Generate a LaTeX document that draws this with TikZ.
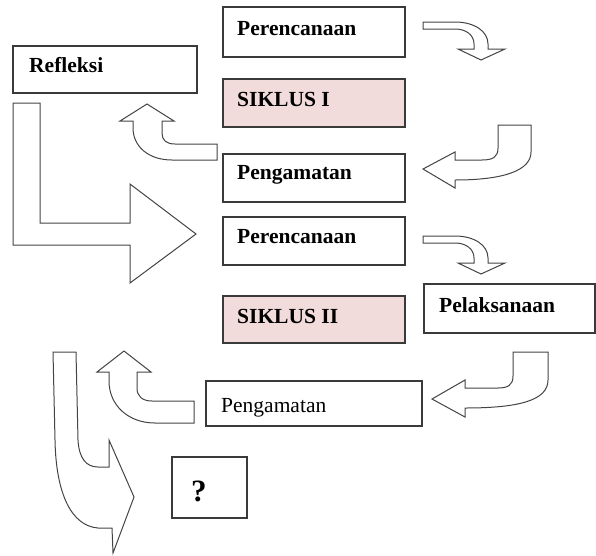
\documentclass[tikz,border=0pt]{standalone}
\usepackage{fontspec}
\setmainfont{Liberation Serif}
\definecolor{boxline}{HTML}{3A3A3A}
\definecolor{arrline}{HTML}{444444}
\definecolor{pinkfill}{HTML}{F2DCDB}
\tikzset{
  box/.style={draw=boxline, line width=1.3pt, fill=white, inner sep=0pt, outer sep=0pt},
  pinkbox/.style={box, fill=pinkfill},
  lbl/.style={anchor=base west, inner sep=0pt, font=\fontsize{21.5}{24}\selectfont\bfseries},
  lblr/.style={anchor=base west, inner sep=0pt, font=\fontsize{21.5}{24}\selectfont},
  qlbl/.style={anchor=base west, inner sep=0pt, font=\fontsize{31}{33}\selectfont\bfseries},
  blockarrow/.style={draw=arrline, line width=1pt, fill=white, line join=miter},
}
\begin{document}
\begin{tikzpicture}[x=1pt, y=-1pt]
\useasboundingbox (0,0) rectangle (596,555);
% boxes
\node[box, minimum width=182pt, minimum height=50pt] (p1) at (314,32) {};
\node[pinkbox, minimum width=182pt, minimum height=48pt] (s1) at (314,103) {};
\node[box, minimum width=182pt, minimum height=48pt] (g1) at (314,178) {};
\node[box, minimum width=182pt, minimum height=48pt] (p2) at (314,241) {};
\node[box, minimum width=184pt, minimum height=47pt] (rf) at (105,69.5) {};
\node[pinkbox, minimum width=182pt, minimum height=47pt] (s2) at (314,319.5) {};
\node[box, minimum width=171pt, minimum height=49pt] (pl) at (509.5,308.5) {};
\node[box, minimum width=216pt, minimum height=45pt] (g2) at (314,403.5) {};
\node[box, minimum width=75pt, minimum height=61pt] (q) at (209.5,487.5) {};
% texts
\node[lbl] (p1t) at (237,35) {Perencanaan};
\node[lbl] (s1t) at (237,106) {SIKLUS I};
\node[lbl] (g1t) at (237,179) {Pengamatan};
\node[lbl] (p2t) at (237,243) {Perencanaan};
\node[lbl] (rft) at (29,72) {Refleksi};
\node[lbl] (s2t) at (237,323) {SIKLUS II};
\node[lbl] (plt) at (439,312) {Pelaksanaan};
\node[lblr] (g2t) at (221,412) {Pengamatan};
\node[qlbl] (qt) at (191,501) {?};
% arrow A and C (curved down)
\foreach \dy in {0,214} {
\begin{scope}[shift={(0,\dy)}]
\draw[blockarrow] (423,22) -- (455,22) .. controls (474,22) and (488,31) .. (488,44) -- (488,49) -- (505,49) -- (481,60) -- (458,49) -- (474,49) -- (474,44) .. controls (474,35) and (466,29) .. (455,29) -- (423,29) -- cycle;
\end{scope}
}
% arrow B (to Pengamatan 1)
\draw[blockarrow] (498,125) -- (531,125) -- (531,152) .. controls (531,170) and (505,180) .. (455,180) -- (455,188) -- (423,169) -- (455,152) -- (455,160) -- (482,160) .. controls (493,160) and (498,157) .. (498,148) -- cycle;
% arrow D (to Pengamatan 2)
\draw[blockarrow] (513,352) -- (548,352) -- (548,380) .. controls (548,400) and (520,408) .. (465,408) -- (465,417) -- (432,399) -- (465,380) -- (465,388) -- (498,388) .. controls (508,388) and (513,385) .. (513,376) -- cycle;
% arrow E (up to Refleksi)
\draw[blockarrow] (217,144) -- (217,160) -- (172,160) .. controls (148,160) and (133,146) .. (133,128) -- (133,121) -- (120,121) -- (147,104) -- (174,121) -- (162,121) -- (162,133) .. controls (162,140) and (166,144) .. (175,144) -- cycle;
% arrow F (up, second cycle)
\draw[blockarrow] (194,401) -- (194,423) -- (155,423) .. controls (128,423) and (109,405) .. (109,381) -- (109,372) -- (97,372) -- (124,351) -- (151,372) -- (137,372) -- (137,388) .. controls (137,396) and (142,401) .. (152,401) -- cycle;
% arrow G (down-right)
\draw[blockarrow] (53,352) -- (76,352) -- (78,440) .. controls (79,458) and (86,467) .. (98,467) -- (109,467) -- (109,440) -- (134,497) -- (113,553) -- (112,528) -- (98,528) .. controls (72,526) and (56,495) .. (55,440) -- cycle;
% arrow H (big L arrow)
\draw[blockarrow] (13,103) -- (40,103) -- (40,223) -- (130,223) -- (130,184) -- (196,234) -- (130,283) -- (130,245) -- (13,245) -- cycle;
\end{tikzpicture}
\end{document}
